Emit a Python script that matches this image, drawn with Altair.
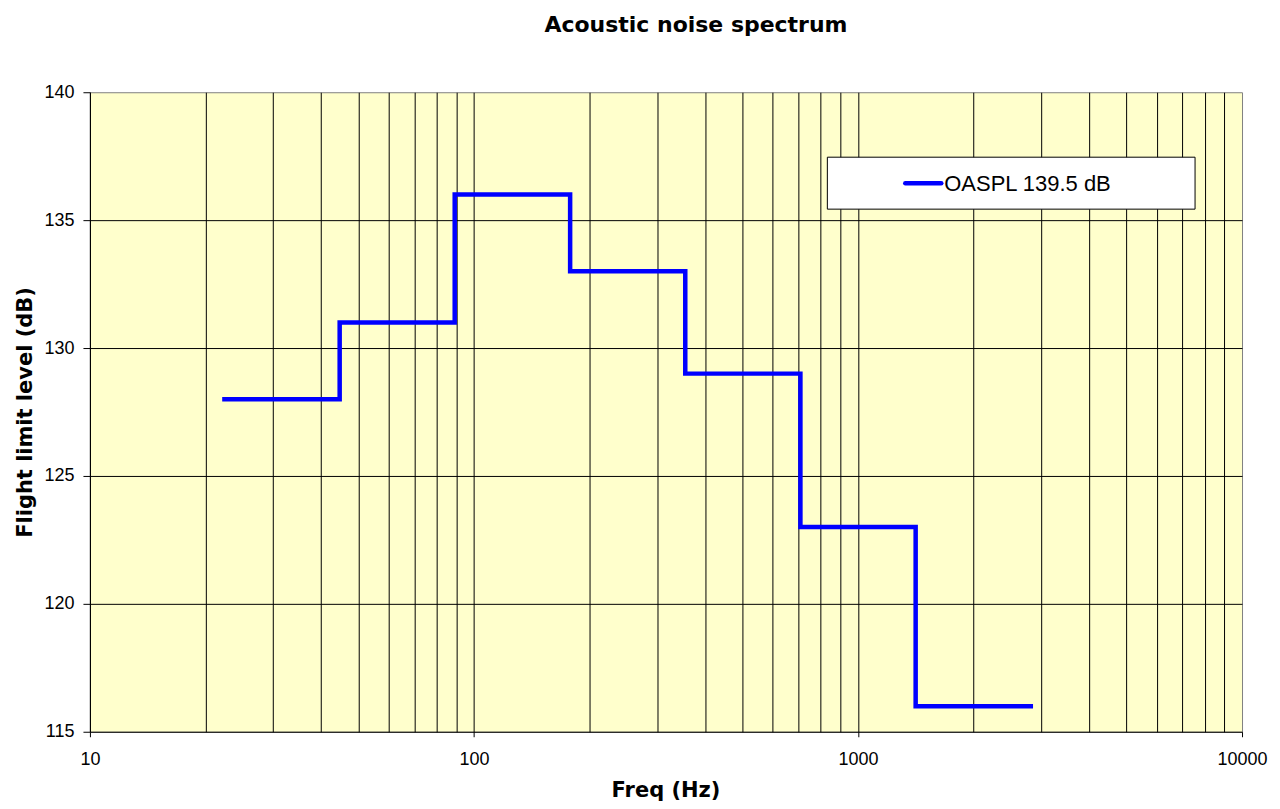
import altair as alt
import pandas as pd

# ---- data ----
freq_hz = [22.4, 44.7, 89.1, 178, 355, 708, 1413, 2818]
level_db = [128, 131, 136, 133, 129, 123, 116, 116]
series_name = "OASPL 139.5 dB"

x_grid_values = [10, 20, 30, 40, 50, 60, 70, 80, 90,
                 100, 200, 300, 400, 500, 600, 700, 800, 900,
                 1000, 2000, 3000, 4000, 5000, 6000, 7000, 8000, 9000, 10000]
x_label_values = [10, 100, 1000, 10000]
y_tick_values = [115, 120, 125, 130, 135, 140]

df = pd.DataFrame({"freq": freq_hz, "level": level_db, "series": series_name})

major_test = " || ".join(f"datum.value == {v}" for v in x_label_values)

x_axis = alt.Axis(
    values=x_grid_values,
    labelExpr=f"({major_test}) ? datum.value + '' : ''",
    grid=True,
    gridColor="#000000",
    gridWidth=1,
    gridOpacity={"condition": {"test": "datum.value == 10000", "value": 0}, "value": 1},
    tickOpacity={"condition": {"test": major_test, "value": 1}, "value": 0},
    tickColor="#000000",
    tickSize=5,
    domainColor="#000000",
    labelFont="Liberation Sans",
    labelFontSize=18,
    labelColor="#000000",
    labelPadding=14,
    labelFlush=False,
    labelOverlap=False,
    title="Freq (Hz)",
    titleFont="DejaVu Sans",
    titleFontWeight="bold",
    titleFontSize=21,
    titleColor="#000000",
    titleX=576,
    titleY=65,
    titleBaseline="alphabetic",
    titleAlign="center",
)

y_axis = alt.Axis(
    values=y_tick_values,
    grid=True,
    gridColor="#000000",
    gridWidth=1,
    gridOpacity={"condition": {"test": "datum.value == 140 || datum.value == 115", "value": 0}, "value": 1},
    tickColor="#000000",
    tickSize=7,
    domainColor="#000000",
    labelFont="Liberation Sans",
    labelFontSize=18,
    labelColor="#000000",
    labelPadding=9,
    title="Flight limit level (dB)",
    titleFont="DejaVu Sans",
    titleFontWeight="bold",
    titleFontSize=21,
    titleColor="#000000",
    titleAngle=-90,
    titleX=-58,
    titleY=320,
    titleAlign="center",
    titleBaseline="alphabetic",
)

line = alt.Chart(df).mark_line(
    interpolate="step-after", color="#0000FF", strokeWidth=4.5, strokeJoin="miter", strokeCap="square"
).encode(
    x=alt.X("freq:Q", scale=alt.Scale(type="log", domain=[10, 10000], nice=False), axis=x_axis),
    y=alt.Y("level:Q", scale=alt.Scale(domain=[115, 140], nice=False, zero=False), axis=y_axis),
)

legend_data = alt.Data(values=[{"label": series_name}])

legend_box = alt.Chart(legend_data).mark_rect(
    fill="#FFFFFF", stroke="#000000", strokeWidth=1
).encode(
    x=alt.value(738), x2=alt.value(1106), y=alt.value(65), y2=alt.value(117)
)

legend_line = alt.Chart(legend_data).mark_rule(
    color="#0000FF", strokeWidth=4.5, strokeCap="round"
).encode(
    x=alt.value(816), x2=alt.value(852), y=alt.value(91)
)

legend_text = alt.Chart(legend_data).mark_text(
    align="left", baseline="middle", font="Liberation Sans", fontSize=22, color="#000000"
).encode(
    x=alt.value(855), y=alt.value(92), text="label:N"
)

chart = alt.layer(line, legend_box, legend_line, legend_text).properties(
    width=1153,
    height=640,
    title=alt.Title(
        "Acoustic noise spectrum",
        font="DejaVu Sans",
        fontWeight="bold",
        fontSize=22,
        color="#000000",
        anchor="middle",
        dx=30,
        offset=46,
    ),
    autosize=alt.AutoSizeParams(type="none"),
    padding={"left": 82, "top": 84, "right": 30, "bottom": 69},
    background="#FFFFFF",
).configure_view(
    fill="#FFFFCC", stroke="#808080", strokeWidth=1
)

chart.save("out.html", embed_options={"renderer": "svg", "actions": False})
